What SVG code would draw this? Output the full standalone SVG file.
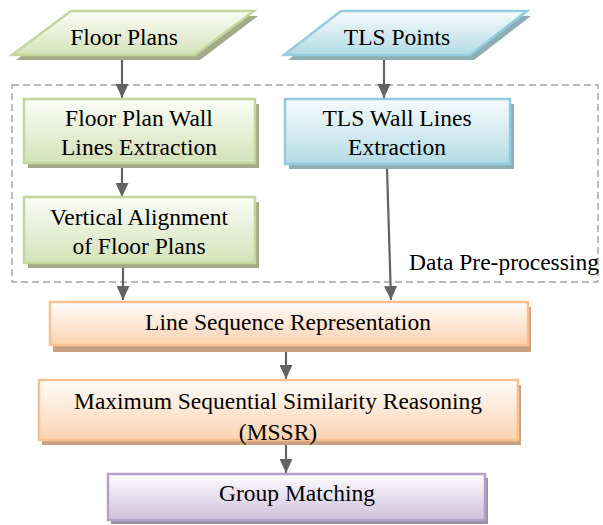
<svg xmlns="http://www.w3.org/2000/svg" width="603" height="525" viewBox="0 0 603 525">
<defs>
<linearGradient id="gGreen" x1="0" y1="0" x2="0" y2="1"><stop offset="0" stop-color="#fbfcf7"/><stop offset="1" stop-color="#d5e2b8"/></linearGradient>
<linearGradient id="gBlue" x1="0" y1="0" x2="0" y2="1"><stop offset="0" stop-color="#f6fbfc"/><stop offset="1" stop-color="#b4dbe6"/></linearGradient>
<linearGradient id="gOrange" x1="0" y1="0" x2="0" y2="1"><stop offset="0" stop-color="#fffdfb"/><stop offset="1" stop-color="#fbd2b0"/></linearGradient>
<linearGradient id="gPurple" x1="0" y1="0" x2="0" y2="1"><stop offset="0" stop-color="#fdfcfe"/><stop offset="1" stop-color="#cdc1dc"/></linearGradient>
<marker id="arr" markerWidth="15" markerHeight="13" refX="14" refY="6.5" orient="auto" markerUnits="userSpaceOnUse">
<path d="M0,0 L14,6.5 L0,13 Z" fill="#636363"/>
</marker>
</defs>
<style>
text{font-family:'Liberation Serif','Times New Roman',Tinos,'DejaVu Serif','Noto Serif',Georgia,serif;font-size:23.5px;fill:#000;text-anchor:middle}
.green{fill:url(#gGreen);stroke:#c3d69b;stroke-width:2.5}
.blue{fill:url(#gBlue);stroke:#93cddd;stroke-width:2.5}
.orange{fill:url(#gOrange);stroke:#fac090;stroke-width:2.5}
.purple{fill:url(#gPurple);stroke:#b3a2c7;stroke-width:2.5}
.shG{fill:#a4a98a}.shB{fill:#8fadb5}.shO{fill:#c9a184}.shP{fill:#9a91a4}
.conn{stroke:#636363;stroke-width:2.2;fill:none;marker-end:url(#arr)}
.dash{fill:none;stroke:#a3a3a3;stroke-width:1.4;stroke-dasharray:7 4}
</style>
<g id="preprocessing">
<rect class="dash" x="12" y="85" width="586" height="197"/>
<text x="504" y="270">Data Pre-processing</text>
</g>
<g id="connectors">
<line class="conn" x1="122" y1="60" x2="122" y2="98"/>
<line class="conn" x1="384" y1="60" x2="384" y2="98"/>
<line class="conn" x1="122" y1="168" x2="122" y2="197"/>
<line class="conn" x1="123" y1="268" x2="123" y2="300"/>
<line class="conn" x1="387" y1="168" x2="391" y2="300"/>
<line class="conn" x1="286" y1="350" x2="286" y2="379"/>
<line class="conn" x1="286" y1="444" x2="286" y2="473"/>
</g>
<g id="floorPlans">
<polygon class="shG" points="75,16 258,16 200,60 16,60"/>
<polygon class="green" points="71,11 254,11 195,55 12,55"/>
<text x="124" y="45">Floor Plans</text>
</g>
<g id="tlsPoints">
<polygon class="shB" points="345,16 531,16 474,60 288,60"/>
<polygon class="blue" points="341,11 527,11 470,55 284,55"/>
<text x="397" y="45">TLS Points</text>
</g>
<g id="fpWallLines">
<rect class="shG" x="28" y="104" width="231" height="64"/>
<rect class="green" x="24" y="99" width="231" height="64"/>
<text x="139" y="126">Floor Plan Wall</text>
<text x="139" y="155">Lines Extraction</text>
</g>
<g id="tlsWallLines">
<rect class="shB" x="289" y="104" width="225" height="65"/>
<rect class="blue" x="285" y="99" width="225" height="65"/>
<text x="397" y="126">TLS Wall Lines</text>
<text x="397" y="155">Extraction</text>
</g>
<g id="verticalAlignment">
<rect class="shG" x="28" y="202" width="231" height="66"/>
<rect class="green" x="24" y="197" width="231" height="66"/>
<text x="139" y="225">Vertical Alignment</text>
<text x="139" y="254">of Floor Plans</text>
</g>
<g id="lineSequence">
<rect class="shO" x="53" y="307" width="478" height="45"/>
<rect class="orange" x="50" y="302" width="478" height="43"/>
<text x="288" y="330">Line Sequence Representation</text>
</g>
<g id="mssr">
<rect class="shO" x="42" y="385" width="479" height="60"/>
<rect class="orange" x="39" y="380" width="479" height="60"/>
<text x="278" y="409">Maximum Sequential Similarity Reasoning</text>
<text x="278" y="440">(MSSR)</text>
</g>
<g id="groupMatching">
<rect class="shP" x="111" y="478" width="377" height="46"/>
<rect class="purple" x="108" y="474" width="377" height="46"/>
<text x="297" y="501">Group Matching</text>
</g>
</svg>
